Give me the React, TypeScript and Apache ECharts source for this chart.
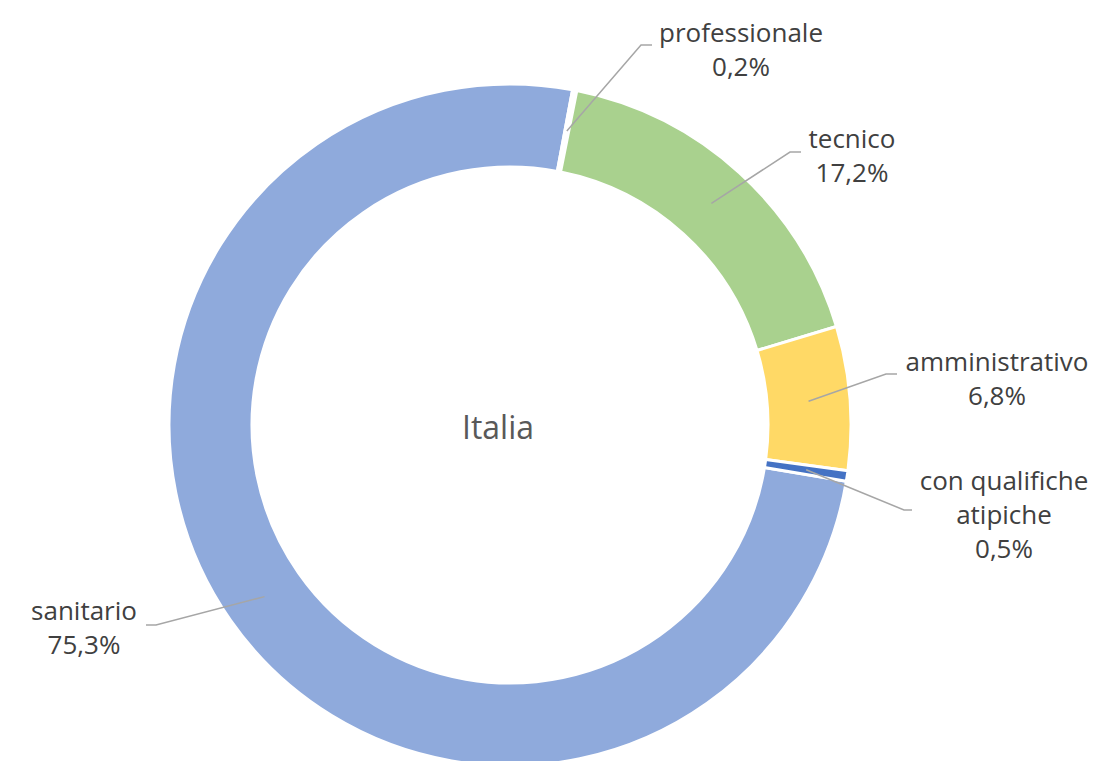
import React, { useEffect, useRef } from "react";
import * as echarts from "echarts";

const categories = ["sanitario", "professionale", "tecnico", "amministrativo", "con qualifiche\natipiche"];
const values = [75.3, 0.2, 17.2, 6.8, 0.5];
const colors = ["#8FAADC", "#FFFFFF", "#A9D18E", "#FFD966", "#4472C4"];
const centerLabel = "Italia";

// layout (pixels): chart centre, radii, label anchors
const CX = 510;
const CY = 425;
const R_IN = 258;
const R_OUT = 341;
const START = -9.5;
const labelAnchors = [
  { elbow: [156, 625], end: [146, 625], text: [84, 627] },
  { elbow: [641, 45], end: [652, 45], text: [741, 49] },
  { elbow: [790, 152], end: [801, 152], text: [852, 155] },
  { elbow: [886, 374], end: [897, 374], text: [997, 378] },
  { elbow: [904, 510], end: [912, 510], text: [1004, 514] },
];

const fmt = (v: number) => v.toFixed(1).replace(".", ",") + "%";

export default function App() {
  const ref = useRef<HTMLDivElement>(null);
  useEffect(() => {
    if (!ref.current) return;
    const chart = echarts.init(ref.current, null, { renderer: "svg" });
    const total = values.reduce((a, b) => a + b, 0);
    const cum: number[] = [];
    let acc = 0;
    values.forEach((v) => {
      cum.push(acc + v / 2);
      acc += v;
    });
    const base = {
      type: "pie",
      center: [CX, CY],
      radius: [R_IN, R_OUT],
      startAngle: START,
      clockwise: true,
      avoidLabelOverlap: false,
    };
    chart.setOption({
      animation: false,
      backgroundColor: "#FFFFFF",
      graphic: [
        {
          type: "text",
          x: CX - 12,
          y: CY + 1,
          style: {
            text: centerLabel,
            fill: "#595959",
            fontSize: 32,
            fontFamily: "Open Sans",
            align: "center",
            verticalAlign: "middle",
            textAlign: "center",
            textVerticalAlign: "middle",
          },
        },
      ],
      series: [
        {
          ...base,
          z: 2,
          itemStyle: { borderColor: "#FFFFFF", borderWidth: 3 },
          data: categories.map((c, i) => ({
            name: c,
            value: values[i],
            itemStyle: { color: colors[i] },
          })),
          label: { show: false },
          labelLine: { show: false },
        },
        {
          ...base,
          z: 4,
          silent: true,
          itemStyle: { color: "rgba(0,0,0,0)", borderWidth: 0 },
          data: categories.map((c, i) => ({ name: c, value: values[i] })),
          label: {
            show: true,
            position: "outside",
            formatter: (p: any) => p.name + "\n" + fmt(p.value),
            color: "#404040",
            fontSize: 26,
            lineHeight: 34,
            fontFamily: "Open Sans",
            align: "center",
          },
          labelLine: {
            show: true,
            showAbove: true,
            length: 20,
            length2: 10,
            lineStyle: { color: "#A6A6A6", width: 1.5 },
          },
          labelLayout: (params: any) => {
            const i = params.dataIndex;
            const a = ((START - (cum[i] / total) * 360) * Math.PI) / 180;
            const rm = (R_IN + R_OUT) / 2;
            const sx = CX + rm * Math.cos(a);
            const sy = CY - rm * Math.sin(a);
            const an = labelAnchors[i];
            return {
              x: an.text[0],
              y: an.text[1],
              align: "center",
              verticalAlign: "middle",
              labelLinePoints: [[sx, sy], an.elbow, an.end],
            };
          },
        },
      ],
    });
    return () => chart.dispose();
  }, []);
  return (
    <div
      ref={ref}
      style={{ position: "absolute", left: 0, top: 0, width: 1094, height: 761 }}
    />
  );
}
